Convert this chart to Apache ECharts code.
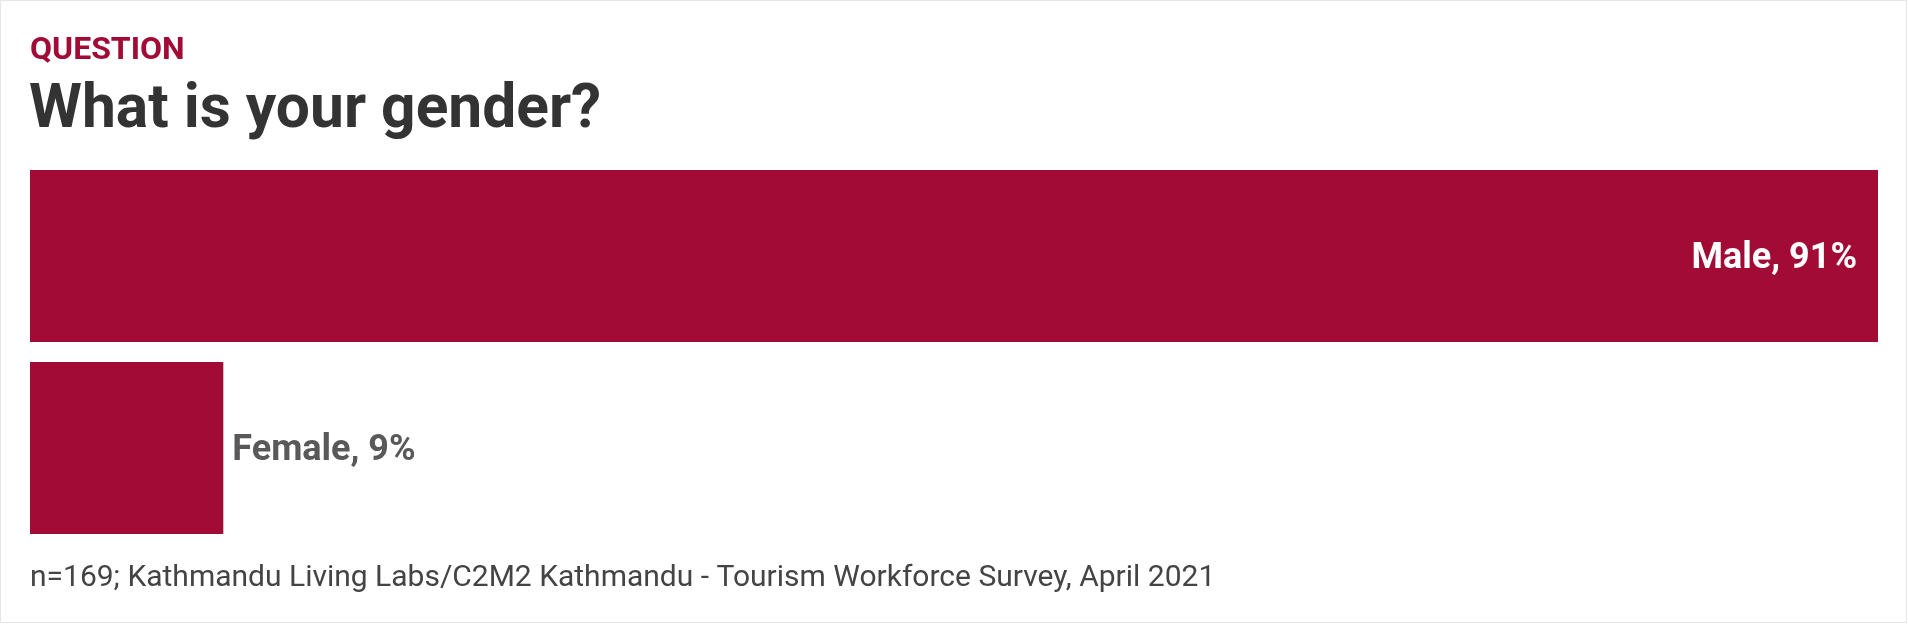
<!DOCTYPE html>
<html>
<head>
<meta charset="utf-8">
<script src="https://cdn.jsdelivr.net/npm/echarts@6/dist/echarts.min.js"></script>
<style>
  html, body { margin: 0; padding: 0; background: #ffffff; }
  #frame { position: absolute; left: 0; top: 0; width: 1907px; height: 623px; box-sizing: border-box; border: 1px solid #e6e6e6; }
  #chart { position: absolute; left: 0; top: 0; width: 1908px; height: 624px; }
</style>
</head>
<body>
<div id="frame"></div>
<div id="chart"></div>
<script>
// ---- data ----
const kicker = 'QUESTION';
const question = 'What is your gender?';
const categories = ['Male', 'Female'];
const shares = [90.53, 9.47];
const footnote = 'n=169; Kathmandu Living Labs/C2M2 Kathmandu - Tourism Workforce Survey, April 2021';

const barColor = '#a20b35';
const font = 'Roboto, "Noto Sans", sans-serif';

const chart = echarts.init(document.getElementById('chart'), null, { renderer: 'canvas' });

const seriesData = shares.map((v, i) => {
  const item = { value: v, name: categories[i] };
  if (i === 0) {
    item.label = { position: 'insideRight', distance: 21, color: '#ffffff' };
  } else {
    item.label = { position: 'right', distance: 9, color: '#595959' };
  }
  return item;
});

chart.setOption({
  animation: false,
  backgroundColor: 'transparent',
  graphic: [
    { type: 'text', x: 30, y: 51, style: { text: kicker, font: 'bold 32px ' + font, fill: '#a20b35', verticalAlign: 'middle' } },
    { type: 'text', x: 29, y: 112, style: { text: question, font: 'bold 60.5px ' + font, fill: '#333333', verticalAlign: 'middle' } },
    { type: 'text', x: 30, y: 578, style: { text: footnote, font: '30px ' + font, fill: '#444444', verticalAlign: 'middle' } }
  ],
  grid: { left: 30, right: 30, top: 160, bottom: 80, containLabel: false },
  xAxis: { type: 'value', min: 0, max: 'dataMax', show: false },
  yAxis: { type: 'category', data: categories, inverse: true, show: false },
  series: [{
    type: 'bar',
    data: seriesData,
    barCategoryGap: '10.42%',
    itemStyle: { color: barColor },
    label: {
      show: true,
      fontFamily: font,
      fontWeight: 'bold',
      fontSize: 36,
      offset: [0, 3],
      formatter: p => p.name + ', ' + Math.round(p.value) + '%'
    }
  }]
});
</script>
</body>
</html>
